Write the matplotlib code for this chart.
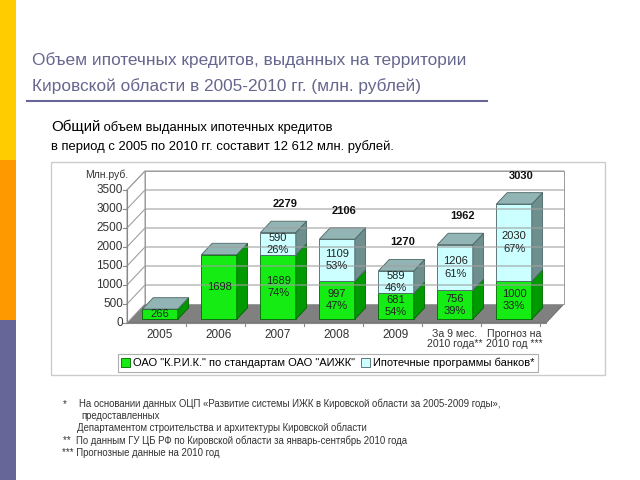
import matplotlib.pyplot as plt
from matplotlib.patches import Polygon, Rectangle, Patch
from matplotlib.lines import Line2D

plt.rcParams['font.family'] = ['Liberation Sans', 'DejaVu Sans']

# данные
categories = ['2005', '2006', '2007', '2008', '2009',
              'За 9 мес.\n2010 года**', 'Прогноз на\n2010 год ***']
krik = [266, 1698, 1689, 997, 681, 756, 1000]
banks = [0, 0, 590, 1109, 589, 1206, 2030]
totals = [266, 1698, 2279, 2106, 1270, 1962, 3030]
krik_pct = [None, None, '74%', '47%', '54%', '39%', '33%']
banks_pct = [None, None, '26%', '53%', '46%', '61%', '67%']
yticks = [0, 500, 1000, 1500, 2000, 2500, 3000, 3500]

c_green, c_green_side, c_green_edge = '#14ec14', '#009900', '#006600'
c_blue, c_blue_side, c_blue_edge = '#ccffff', '#6f8e8e', '#4a6464'
c_top = '#93b4b4'

W, H = 640, 480
fig = plt.figure(figsize=(6.4, 4.8), dpi=100)

# полосы слева
for y0, y1, col in [(0, 160, '#ffcc00'), (160, 320, '#ff9900'), (320, 480, '#666699')]:
    fig.patches.append(Rectangle((0, 1 - y1 / H), 16 / W, (y1 - y0) / H,
                                 transform=fig.transFigure, color=col, lw=0))

# заголовок
fig.text(32 / W, 1 - 60 / H, 'Объем ипотечных кредитов, выданных на территории',
         fontsize=12.4, color='#66668f', va='center')
fig.text(32 / W, 1 - 86 / H, 'Кировской области в 2005-2010 гг. (млн. рублей)',
         fontsize=12.4, color='#66668f', va='center')
fig.lines.append(Line2D([27 / W, 487 / W], [1 - 100.5 / H] * 2,
                        transform=fig.transFigure, color='#666699', lw=1.5))

# рамка диаграммы
fig.patches.append(Rectangle((51 / W, 1 - 375 / H), (605 - 51) / W, (375 - 162) / H,
                             transform=fig.transFigure, fill=False, ec='#cccccc', lw=1))

# оси: x_px = 156.5 + 59*x, y_px = 323 - 0.038*v
xl, xr = -0.6, 7.0
yb, yt = 0, 4400
ax = fig.add_axes([(156.5 + 59 * xl) / W, (H - 323) / H,
                   59 * (xr - xl) / W, 0.038 * (yt - yb) / H])
ax.set_xlim(xl, xr)
ax.set_ylim(yb, yt)
ax.axis('off')

DX, DY = 0.305, 500
x0, x1 = -0.5, 6.6
ytop = yticks[-1]

# пол
ax.add_patch(Polygon([(x0, 0), (x1, 0), (x1 + DX, DY), (x0 + DX, DY)],
                     closed=True, fc='#808080', ec='#666666', lw=0.6, clip_on=False))
# левая стенка и задняя стенка
ax.add_patch(Polygon([(x0, 0), (x0 + DX, DY), (x0 + DX, ytop + DY), (x0, ytop)],
                     closed=True, fc='white', ec='#999999', lw=0.7, clip_on=False))
ax.add_patch(Polygon([(x0 + DX, DY), (x1 + DX, DY), (x1 + DX, ytop + DY), (x0 + DX, ytop + DY)],
                     closed=True, fc='white', ec='#999999', lw=0.7, clip_on=False))
for v in yticks[1:]:
    ax.plot([x0, x0 + DX, x1 + DX], [v, v + DY, v + DY], color='#a0a0a0', lw=0.8,
            clip_on=False)
    ax.plot([x0 - 0.07, x0], [v, v], color='#888888', lw=0.8, clip_on=False)
ax.plot([x0 - 0.07, x0], [0, 0], color='#888888', lw=0.8, clip_on=False)
ax.plot([x0, x0], [0, ytop], color='#888888', lw=0.8, clip_on=False)
ax.plot([x0, x1], [0, 0], color='#888888', lw=0.8, clip_on=False)
for i in range(len(categories)):
    ax.plot([i + 0.5, i + 0.5], [0, -90], color='#888888', lw=0.8, clip_on=False)

for v in yticks:
    ax.text(-0.57, v, str(v), ha='right', va='center', fontsize=8.5, color='#333333')
ax.text(-0.48, 3895, 'Млн.руб.', ha='right', va='center', fontsize=7.5, color='#333333')

for i, lab in enumerate(categories):
    two = '\n' in lab
    ax.text(i + 0.06, -170, lab, ha='center', va='top', fontsize=7.6 if two else 8.5,
            color='#333333', linespacing=0.95)

# столбцы
w = 0.3
fx, fy = DX * 0.2, DY * 0.2
bx, by = DX * 0.8, DY * 0.8
for i in range(len(categories)):
    segs = [(0, krik[i], c_green, c_green_side, c_green_edge, krik_pct[i])]
    if banks[i]:
        segs.append((krik[i], krik[i] + banks[i], c_blue, c_blue_side, c_blue_edge,
                     banks_pct[i]))
    for y0, y1, cf, cs, ce, pct in segs:
        xa, xb = i - w, i + w
        ax.add_patch(Polygon([(xa + fx, y0 + fy), (xb + fx, y0 + fy),
                              (xb + fx, y1 + fy), (xa + fx, y1 + fy)],
                             closed=True, fc=cf, ec=ce, lw=0.6, clip_on=False))
        ax.add_patch(Polygon([(xb + fx, y0 + fy), (xb + bx, y0 + by),
                              (xb + bx, y1 + by), (xb + fx, y1 + fy)],
                             closed=True, fc=cs, ec=ce, lw=0.6, clip_on=False))
        txt = str(y1 - y0) if pct is None else f'{y1 - y0}\n{pct}'
        ax.text(i + fx, fy + (y0 + y1) / 2, txt, ha='center', va='center',
                fontsize=8, color='#222222', linespacing=1.3)
    top = totals[i]
    ax.add_patch(Polygon([(i - w + fx, top + fy), (i + w + fx, top + fy),
                          (i + w + bx, top + by), (i - w + bx, top + by)],
                         closed=True, fc=c_top, ec='#4a6464', lw=0.6, clip_on=False))
    if banks[i]:
        ax.text(i + 0.18, top + 850, str(top), ha='center', va='center',
                fontsize=8, fontweight='bold', color='#111111')

# легенда
handles = [Patch(fc=c_green, ec=c_green_edge, lw=0.6), Patch(fc=c_blue, ec=c_blue_edge, lw=0.6)]
labels = ['ОАО "К.Р.И.К." по стандартам ОАО "АИЖК"', 'Ипотечные программы банков*']
leg = fig.legend(handles, labels, loc='center', bbox_to_anchor=(328 / W, 1 - 363 / H),
                 ncol=2, fontsize=8, frameon=True, fancybox=False, edgecolor='#999999',
                 handlelength=0.8, handleheight=0.8, handletextpad=0.3,
                 columnspacing=0.5, borderpad=0.3, borderaxespad=0)
leg.get_frame().set_linewidth(0.8)

# подзаголовок
t1 = fig.text(51 / W, 1 - 131 / H, 'Общий', fontsize=10.8, va='baseline', color='black')
ax.annotate(' объем выданных ипотечных кредитов', xy=(1, 0), xycoords=t1,
            va='bottom', ha='left', fontsize=9.4, color='black', annotation_clip=False)
fig.text(51 / W, 1 - 150 / H, 'в период с 2005 по 2010 гг. составит 12 612 млн. рублей.',
         fontsize=9.4, va='baseline', color='black')

# сноски
notes = [
    (63, 404, '*'),
    (79, 404, 'На основании данных ОЦП «Развитие системы ИЖК в Кировской области за 2005-2009 годы»,'),
    (81, 416, 'предоставленных'),
    (77, 428, 'Департаментом строительства и архитектуры Кировской области'),
    (63, 441, '**  По данным ГУ ЦБ РФ по Кировской области за январь-сентябрь 2010 года'),
    (62, 453, '*** Прогнозные данные на 2010 год'),
]
for x, y, s in notes:
    fig.text(x / W, 1 - y / H, s, fontsize=6.9, va='center', color='#333333')

fig.savefig('out.png', dpi=100)
